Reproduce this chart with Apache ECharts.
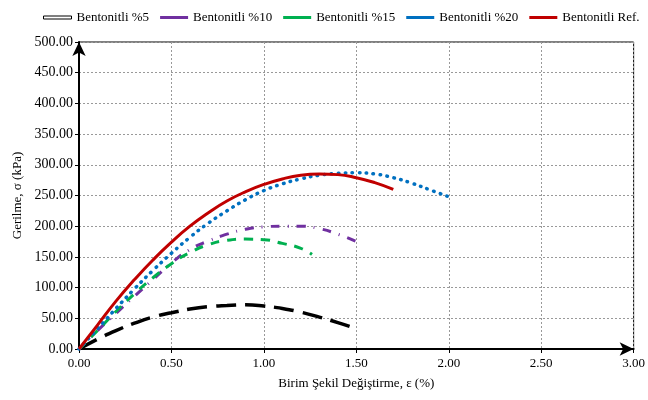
<!DOCTYPE html>
<html><head><meta charset="utf-8">
<script src="https://cdn.jsdelivr.net/npm/echarts@6/dist/echarts.min.js"></script>
<style>html,body{margin:0;padding:0;background:#fff}#c{width:648px;height:400px}</style>
</head><body><div id="c"></div>
<script>
const seriesNames = ['Bentonitli %5','Bentonitli %10','Bentonitli %15','Bentonitli %20','Bentonitli Ref.'];
const b5 = [[0,0],[0.1,16],[0.2,30],[0.3,42],[0.4,52],[0.5,59],[0.6,65],[0.7,69],[0.8,71],[0.9,72],[1.0,70],[1.1,66],[1.2,60],[1.3,52],[1.4,43],[1.5,33]];
const b10 = [[0,0],[0.1,30],[0.2,58],[0.3,86],[0.4,113],[0.5,140],[0.6,162],[0.7,176],[0.8,187],[0.9,195],[1.0,199],[1.1,200],[1.2,200],[1.3,196],[1.4,187],[1.5,175]];
const b15 = [[0,0],[0.1,30],[0.2,61],[0.3,90],[0.4,116],[0.5,139],[0.6,157],[0.7,170],[0.8,177],[0.9,179],[1.0,178],[1.1,172],[1.2,164],[1.26,154]];
const b20 = [[0,0],[0.1,33],[0.2,66],[0.3,98],[0.4,128],[0.5,156],[0.6,182],[0.7,205],[0.8,225],[0.9,243],[1.0,258],[1.1,269],[1.2,277],[1.3,283],[1.4,286],[1.5,287],[1.6,285],[1.7,279],[1.8,270],[1.9,259],[2.0,248]];
const bRef = [[0,0],[0.1,39],[0.2,78],[0.3,113],[0.4,145],[0.5,174],[0.6,200],[0.7,222],[0.8,241],[0.9,256],[1.0,268],[1.1,277],[1.2,283],[1.3,285],[1.4,284],[1.5,279],[1.6,271],[1.7,260]];
const font = 'Liberation Serif';
const chart = echarts.init(document.getElementById('c'));
const styles = [
  {color:'#000000', width:3.5, type:[20,9]},
  {color:'#7030a0', width:3, type:[9,8,1,8]},
  {color:'#00b050', width:3, type:[9,8]},
  {color:'#0070c0', width:3.5, type:[0.5,6.5], cap:'round'},
  {color:'#c00000', width:3, type:'solid'}
];
const datas = [b5,b10,b15,b20,bRef];
chart.setOption({
  animation:false,
  textStyle:{fontFamily:font},
  legend:{top:6,left:38,width:610,itemWidth:28,itemHeight:3,itemGap:11,
    textStyle:{fontFamily:font,fontSize:13,color:'#000'},
    data:seriesNames.map((n,i)=>i===0
      ? {name:n,icon:'rect',itemStyle:{color:'#fff',borderColor:'#000',borderWidth:1}}
      : {name:n,icon:'rect'})},
  grid:{left:79,right:12,top:42,bottom:51,show:true,borderColor:'#000',borderWidth:1},
  xAxis:{type:'value',min:0,max:3,interval:0.5,
    name:'Birim Şekil Değiştirme, ε (%)',nameLocation:'middle',nameGap:28,
    nameTextStyle:{fontFamily:font,fontSize:13,color:'#000'},
    axisLine:{lineStyle:{color:'#000',width:2},symbol:['none','arrow'],symbolSize:[10,14]},
    axisTick:{show:true,length:4,lineStyle:{color:'#000'}},
    axisLabel:{formatter:v=>v.toFixed(2),fontFamily:font,fontSize:13,color:'#000',margin:8},
    splitLine:{show:true,lineStyle:{color:'#999',type:[2,2],width:1}}},
  yAxis:{type:'value',min:0,max:500,interval:50,
    name:'Gerilme, σ (kPa)',nameLocation:'middle',nameGap:55,nameRotate:90,
    nameTextStyle:{fontFamily:font,fontSize:13,color:'#000'},
    axisLine:{lineStyle:{color:'#000',width:2},symbol:['none','arrow'],symbolSize:[10,14]},
    axisTick:{show:true,length:4,lineStyle:{color:'#000'}},
    axisLabel:{formatter:v=>v.toFixed(2),fontFamily:font,fontSize:14,color:'#000',margin:6},
    splitLine:{show:true,lineStyle:{color:'#999',type:[2,2],width:1}}},
  series:seriesNames.map((n,i)=>({name:n,type:'line',smooth:true,showSymbol:false,symbol:'none',
    data:datas[i],itemStyle:{color:styles[i].color},lineStyle:styles[i]}))
});
</script></body></html>
